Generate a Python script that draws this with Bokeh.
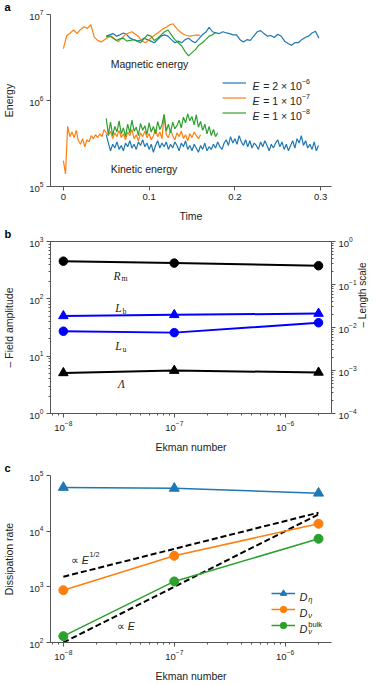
import numpy as np
from bokeh.plotting import figure
from bokeh.layouts import column
from bokeh.models import (Range1d, LogAxis, LogScale, FixedTicker, Label, Legend,
                          LegendItem, CustomJSTickFormatter)
from bokeh.embed import file_html
from bokeh.resources import INLINE

BLUE = "#1f77b4"; ORANGE = "#ff7f0e"; GREEN = "#2ca02c"; PURE_BLUE = "#0000ff"
AX = "#555555"; TXT = "#222222"
FONT = "Liberation Sans"; SERIF = "Liberation Serif"

# ---------------- panel a data (energies; magnetic in 1e6, kinetic in 1e5)
MAG_STEP = 0.004
KIN_STEP = 0.0025
mag_blue_t0, mag_orange_t0, mag_green_t0 = 0.05, 0.0, 0.05
mag_blue_1e6 = [5.6, 5.8, 6.0, 5.6, 5.8, 6.1, 5.8, 5.3, 5.1, 4.9,
                5.0, 5.3, 5.1, 4.9, 4.7, 5.1, 5.6, 5.8, 5.6, 5.1,
                4.7, 4.9, 4.7, 5.1, 5.3, 4.9, 4.7, 5.2, 5.8, 6.2,
                7.1, 6.3, 6.1, 6.0, 6.3, 6.1, 6.0, 5.8, 5.8, 5.1,
                4.8, 5.1, 5.0, 5.6, 6.3, 6.5, 6.0, 5.6, 5.7, 5.4,
                5.9, 5.6, 4.9, 4.6, 4.4, 4.7, 4.7, 5.1, 5.4, 5.6,
                6.1, 6.4, 5.3]
mag_orange_1e6 = [4.0, 5.7, 6.1, 6.6, 6.0, 6.7, 7.2, 6.9, 7.6, 5.5,
                  5.0, 4.8, 5.1, 5.4, 5.6, 5.2, 4.8, 5.3, 5.8, 6.1,
                  6.3, 5.9, 5.5, 4.9, 4.7, 5.1, 5.5, 5.9, 6.3, 6.8,
                  7.1, 7.6, 7.8, 6.9, 6.3, 5.9, 5.7, 5.6, 5.7, 5.8,
                  5.7]
mag_green_1e6 = [5.5, 5.65, 5.3, 5.0, 5.2, 5.3, 4.9, 5.0, 5.1, 4.9,
                 4.7, 5.2, 5.8, 5.6, 5.0, 5.3, 5.8, 6.3, 6.6, 5.8,
                 5.1, 4.7, 4.3, 3.7, 3.3, 3.6, 3.9, 4.4, 4.7, 5.1,
                 5.6, 5.8, 6.2]
kin_blue_t0, kin_orange_t0, kin_green_t0 = 0.05, 0.0, 0.05
kin_blue_1e5 = [4.0, 3.2, 2.6, 3.1, 2.8, 3.3, 2.7, 3.0, 2.6, 3.2,
                2.9, 3.4, 2.8, 3.1, 2.7, 3.3, 3.0, 3.5, 2.9, 3.2,
                2.7, 3.1, 2.5, 3.0, 3.4, 2.8, 3.2, 2.9, 3.3, 2.7,
                3.1, 2.8, 3.3, 3.0, 2.6, 3.2, 2.9, 3.4, 2.7, 3.0,
                2.6, 3.1, 2.8, 2.5, 3.0, 2.7, 3.2, 2.6, 2.9, 2.7,
                3.1, 2.8, 3.3, 2.9, 2.7, 3.2, 3.5, 3.0, 3.8, 3.2,
                3.6, 3.1, 3.9, 3.3, 3.0, 3.5, 2.9, 3.4, 2.8, 3.2,
                3.0, 2.7, 3.3, 2.9, 3.4, 3.0, 2.6, 3.1, 2.8, 3.2,
                3.5, 2.9, 3.3, 2.7, 3.1, 2.6, 3.0, 3.4, 2.8, 3.6,
                3.2, 3.9, 3.0, 3.4, 2.8, 3.1, 2.7, 3.3, 2.6, 3.0]
kin_orange_1e5 = [2.0, 1.4, 5.0, 3.8, 4.3, 3.7, 4.5, 3.4, 3.1, 3.6,
                  2.9, 3.5, 3.3, 3.9, 3.6, 4.0, 3.7, 4.1, 3.8, 4.6,
                  4.2, 3.9, 4.4, 3.6, 4.2, 3.8, 4.5, 3.7, 4.1, 3.5,
                  4.3, 3.9, 4.6, 3.6, 4.0, 3.4, 4.2, 3.8, 4.4, 3.7,
                  4.1, 3.5, 3.9, 4.6, 3.8, 4.3, 3.6, 6.8, 4.0, 3.7,
                  4.5, 3.9, 3.5, 4.2, 3.8, 4.4, 3.6, 4.0, 3.4, 4.1,
                  3.7, 4.3, 3.9, 3.6, 4.0]
kin_green_1e5 = [6.2, 4.0, 5.6, 3.9, 5.0, 4.3, 5.8, 4.1, 4.8, 3.8,
                 5.3, 4.2, 5.9, 4.4, 4.9, 3.9, 5.4, 4.5, 5.1, 4.0,
                 5.5, 4.3, 5.0, 4.1, 5.7, 4.6, 5.2, 6.9, 4.4, 5.3,
                 4.2, 5.6, 4.7, 5.1, 5.9, 4.8, 6.4, 5.5, 7.0, 5.8,
                 6.5, 5.2, 6.8, 4.9, 5.7, 4.5, 5.3, 4.1, 5.0, 3.9,
                 4.6, 3.8, 4.2]
time_ticks = [0, 0.1, 0.2, 0.3]
time_tick_labels = ["0", "0.1", "0.2", "0.3"]
energy_ticks = [1e5, 1e6, 1e7]
legend_a_labels = [("2", "−6"), ("1", "−7"), ("1", "−8")]

# ---------------- panel b data
ekman = [1e-8, 1e-7, 2e-6]
rm = [454, 420, 378]
lam = [5.1, 5.6, 5.2]
lb = [0.0186, 0.0197, 0.0211]
lu = [0.0082, 0.0076, 0.0129]
amp_ticks = [1, 10, 100, 1000]
len_ticks = [1e-4, 1e-3, 1e-2, 1e-1, 1]
ekman_ticks = [1e-8, 1e-7, 1e-6]

# ---------------- panel c data
d_eta = [61000, 58800, 48100]
d_nu = [870, 3610, 13600]
d_nu_bulk = [130, 1250, 7300]
ekman_ref = [1e-8, 2e-6]
ref_half = [1520, 21500]
ref_one = [100, 20000]
diss_ticks = [1e2, 1e3, 1e4, 1e5]

# ---------------- helpers
SANS_W = {' ': 0.278, '=': 0.584, '×': 0.584, '−': 0.584, '.': 0.278, '/': 0.278,
          'E': 0.667, 'D': 0.722, 'b': 0.556, 'u': 0.556, 'l': 0.222, 'k': 0.5,
          'η': 0.556, 'ν': 0.5, '∝': 0.75, 'm': 0.833}
SERIF_W = {'R': 0.611, 'L': 0.556, 'Λ': 0.667, 'm': 0.778, 'b': 0.5, 'u': 0.5}


def text_w(s, fs, table):
    return sum(table.get(c, 0.556) for c in s) * fs


def rich(p, x, y, parts, size=10.5, font=FONT, table=SANS_W,
         x_units="data", y_units="data", color=TXT, lift=0.0):
    off = 0.0
    base = -0.32 * size + lift
    for part in parts:
        text, kind = part[0], part[1]
        advance = part[2] if len(part) > 2 else True
        fs, dy, style = size, 0.0, "normal"
        if kind == "i":
            style = "italic"
        elif kind in ("sup", "supi"):
            fs, dy = size * 0.68, 0.42 * size
            style = "italic" if kind == "supi" else "normal"
        elif kind in ("sub", "subi"):
            fs, dy = size * 0.68, -0.27 * size
            style = "italic" if kind == "subi" else "normal"
        # leading / trailing blanks are collapsed in SVG text: turn them into offsets
        lead = len(text) - len(text.lstrip(" "))
        trail = len(text.rstrip(" ")) - len(text.strip(" ")) if text.strip(" ") else 0
        core = text.strip(" ")
        off_here = off + lead * SANS_W[' '] * fs
        if core:
            p.add_layout(Label(x=x, y=y, x_units=x_units, y_units=y_units,
                               x_offset=off_here, y_offset=base + dy, text=core,
                               text_font=font, text_font_size=f"{fs:.1f}px",
                               text_font_style=style, text_color=color,
                               text_align="left", text_baseline="alphabetic"))
        if advance:
            off += text_w(text, fs, table) + (0.08 * fs if style == "italic" else 0)


def style_axis(ax, minor=True):
    ax.axis_line_color = AX
    ax.major_tick_line_color = AX
    ax.minor_tick_line_color = AX if minor else None
    ax.major_tick_in = 0
    ax.major_tick_out = 4
    ax.minor_tick_in = 0
    ax.minor_tick_out = 2
    ax.major_label_text_font = FONT
    ax.major_label_text_font_size = "9.5px"
    ax.major_label_text_color = TXT
    ax.major_label_standoff = 3
    ax.axis_label_text_font = FONT
    ax.axis_label_text_font_size = "10.5px"
    ax.axis_label_text_font_style = "normal"
    ax.axis_label_text_color = TXT
    ax.axis_label_standoff = 7


def panel_letter(p, letter):
    t = p.title
    t.text = letter
    t.align = "left"
    t.vertical_align = "top"
    t.offset = -LB
    t.standoff = 0
    t.text_font = FONT
    t.text_font_size = "11px"
    t.text_font_style = "bold"
    t.text_color = "black"


def minors(decades):
    return [m * 10.0 ** e for e in decades for m in range(2, 10)]


W = 379
LB, RB = 46, 48

# ================= panel a
pa = figure(width=W, height=227, x_range=Range1d(-0.015, 0.3127),
            y_range=Range1d(1e5, 1e7), y_axis_type="log",
            output_backend="svg", toolbar_location=None,
            min_border_left=LB, min_border_right=RB, min_border_top=11,
            min_border_bottom=41)
pa.outline_line_color = None
pa.grid.visible = False
style_axis(pa.xaxis[0])
style_axis(pa.yaxis[0], minor=False)
pa.xaxis.ticker = FixedTicker(ticks=time_ticks, minor_ticks=[])
pa.xaxis.formatter = CustomJSTickFormatter(
    args=dict(tv=time_ticks, lab=time_tick_labels),
    code="const i = tv.findIndex(t => Math.abs(t - tick) < 1e-9); return i >= 0 ? lab[i] : '';")
pa.yaxis.ticker = FixedTicker(ticks=energy_ticks, minor_ticks=[])
pa.xaxis.axis_label = "Time"
pa.yaxis.axis_label = "Energy"
pa.yaxis.axis_label_standoff = 11

series_a = []
for t0, vals, col in [(mag_blue_t0, mag_blue_1e6, BLUE),
                      (mag_orange_t0, mag_orange_1e6, ORANGE),
                      (mag_green_t0, mag_green_1e6, GREEN)]:
    t = t0 + MAG_STEP * np.arange(len(vals))
    series_a.append(pa.line(t, np.array(vals) * 1e6, color=col, line_width=1.2))
for t0, vals, col in [(kin_blue_t0, kin_blue_1e5, BLUE),
                      (kin_orange_t0, kin_orange_1e5, ORANGE),
                      (kin_green_t0, kin_green_1e5, GREEN)]:
    t = t0 + KIN_STEP * np.arange(len(vals))
    pa.line(t, np.array(vals) * 1e5, color=col, line_width=1.2)

pa.add_layout(Label(x=0.0552, y=2.68e6, text="Magnetic energy", text_font=FONT,
                    text_font_size="10.5px", text_color=TXT, text_baseline="middle"))
pa.add_layout(Label(x=0.0552, y=1.6e5, text="Kinetic energy", text_font=FONT,
                    text_font_size="10.5px", text_color=TXT, text_baseline="middle"))

leg_a = Legend(items=[LegendItem(label=" ", renderers=[r]) for r in series_a],
               location=(172, 66), padding=0, margin=0, spacing=0,
               glyph_width=24, glyph_height=15, label_height=15, label_width=1,
               label_standoff=0, label_text_font_size="1px",
               border_line_color=None, background_fill_alpha=0)
pa.add_layout(leg_a)
for k, (mant, expo) in enumerate(legend_a_labels):
    rich(pa, 202, 103.5 - 15 * k, [("E", "i"), (f" = {mant} × 10", "n"), (expo, "sup")],
         x_units="screen", y_units="screen")
panel_letter(pa, "a")

# ================= panel b
xr = Range1d(10 ** -8.116, 10 ** -5.582)
pb = figure(width=W, height=228, x_axis_type="log", y_axis_type="log",
            x_range=xr, y_range=Range1d(1, 1000),
            output_backend="svg", toolbar_location=None,
            min_border_left=LB, min_border_right=RB, min_border_top=14,
            min_border_bottom=39)
pb.extra_y_ranges = {"len": Range1d(1e-4, 1)}
pb.extra_y_scales = {"len": LogScale()}
ax_r = LogAxis(y_range_name="len")
pb.add_layout(ax_r, "right")
pb.outline_line_color = AX
pb.grid.visible = False
style_axis(pb.xaxis[0])
style_axis(pb.yaxis[0])
style_axis(ax_r)
pb.xaxis.ticker = FixedTicker(ticks=ekman_ticks, minor_ticks=minors([-9, -8, -7, -6]))
pb.yaxis[0].ticker = FixedTicker(ticks=amp_ticks, minor_ticks=minors([0, 1, 2]))
ax_r.ticker = FixedTicker(ticks=len_ticks, minor_ticks=minors([-4, -3, -2, -1]))
pb.xaxis.axis_label = "Ekman number"
pb.yaxis[0].axis_label = "– Field amplitude"
pb.yaxis[0].axis_label_standoff = 11
ax_r.axis_label_standoff = 3
ax_r.axis_label_text_font_size = "10px"
try:
    ax_r.axis_label_orientation = np.pi / 2
    ax_r.axis_label = "– Length scale"
except (AttributeError, ValueError):
    ax_r.axis_label = "Length scale –"

pb.line(ekman, rm, color="black", line_width=2)
pb.scatter(ekman, rm, marker="circle", size=8.5, color="black")
pb.line(ekman, lam, color="black", line_width=2)
pb.scatter(ekman, lam, marker="triangle", size=9.5, color="black")
pb.line(ekman, lb, color=PURE_BLUE, line_width=2, y_range_name="len")
pb.scatter(ekman, lb, marker="triangle", size=9.5, color=PURE_BLUE, y_range_name="len")
pb.line(ekman, lu, color=PURE_BLUE, line_width=2, y_range_name="len")
pb.scatter(ekman, lu, marker="circle", size=8.5, color=PURE_BLUE, y_range_name="len")

for lx, ly, parts in [(-7.547, 2.417, [("R", "i"), ("m", "sub")]),
                      (-7.532, 1.846, [("L", "i"), ("b", "sub")]),
                      (-7.532, 1.188, [("L", "i"), ("u", "sub")]),
                      (-7.508, 0.531, [("Λ", "i")])]:
    rich(pb, 10 ** lx, 10 ** ly, parts, size=11.5, font=SERIF, table=SERIF_W, lift=3)
panel_letter(pb, "b")

# ================= panel c
pc = figure(width=W, height=229, x_axis_type="log", y_axis_type="log",
            x_range=Range1d(10 ** -8.116, 10 ** -5.582), y_range=Range1d(1e2, 1e5),
            output_backend="svg", toolbar_location=None,
            min_border_left=LB, min_border_right=RB, min_border_top=20,
            min_border_bottom=36)
pc.outline_line_color = None
pc.grid.visible = False
style_axis(pc.xaxis[0])
style_axis(pc.yaxis[0], minor=False)
pc.xaxis.ticker = FixedTicker(ticks=ekman_ticks, minor_ticks=minors([-9, -8, -7, -6]))
pc.yaxis.ticker = FixedTicker(ticks=diss_ticks, minor_ticks=[])
pc.xaxis.axis_label = "Ekman number"
pc.yaxis.axis_label = "Dissipation rate"
pc.yaxis.axis_label_standoff = 11

pc.line(ekman_ref, ref_half, color="black", line_width=2, line_dash="6 3")
pc.line(ekman_ref, ref_one, color="black", line_width=2, line_dash="6 3")
items_c = []
for vals, col, mk, sz in [(d_eta, BLUE, "triangle", 10), (d_nu, ORANGE, "circle", 9),
                          (d_nu_bulk, GREEN, "circle", 9)]:
    rl = pc.line(ekman, vals, color=col, line_width=1.5)
    rs = pc.scatter(ekman, vals, marker=mk, size=sz, color=col)
    items_c.append(LegendItem(label=" ", renderers=[rl, rs]))
leg_c = Legend(items=items_c, location=(221, 9), padding=0, margin=0, spacing=0,
               glyph_width=24, glyph_height=16, label_height=16, label_width=1,
               label_standoff=0, label_text_font_size="1px",
               border_line_color=None, background_fill_alpha=0)
pc.add_layout(leg_c)
rich(pc, 249, 49, [("D", "i"), ("η", "subi")], size=11, x_units="screen", y_units="screen")
rich(pc, 249, 33, [("D", "i"), ("ν", "subi")], size=11, x_units="screen", y_units="screen")
rich(pc, 249, 17, [("D", "i"), ("ν", "subi", False), ("bulk", "sup")], size=11,
     x_units="screen", y_units="screen")
rich(pc, 10 ** -7.932, 10 ** 3.547, [("∝ ", "n"), ("E", "i"), ("1/2", "sup")])
rich(pc, 10 ** -7.517, 10 ** 2.353, [("∝ ", "n"), ("E", "i")])
panel_letter(pc, "c")

layout = column(pa, pb, pc, spacing=0)
open("out.html", "w").write(file_html(layout, INLINE))
